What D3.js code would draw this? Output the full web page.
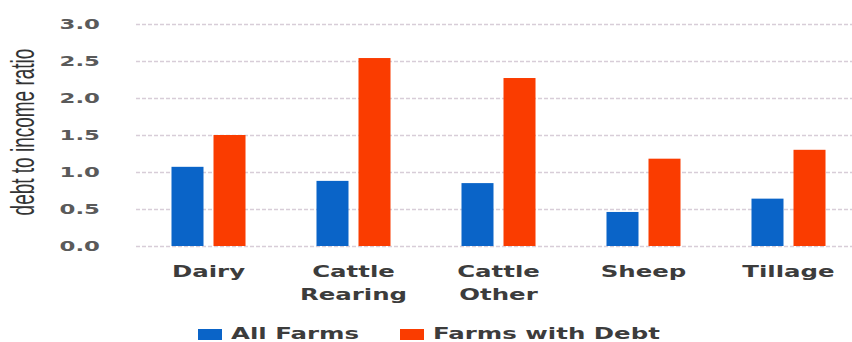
<!DOCTYPE html>
<html>
<head>
<meta charset="utf-8">
<script src="https://cdn.jsdelivr.net/npm/d3@7"></script>
<style>
  body { margin: 0; background: #fff; }
  svg { display: block; }
</style>
</head>
<body>
<svg width="852" height="342"></svg>
<script>
// data
var categories = ["Dairy", "Cattle Rearing", "Cattle Other", "Sheep", "Tillage"];
var categoryLines = [["Dairy"], ["Cattle", "Rearing"], ["Cattle", "Other"], ["Sheep"], ["Tillage"]];
var seriesNames = ["All Farms", "Farms with Debt"];
var allFarms = [1.07, 0.88, 0.85, 0.46, 0.64];
var farmsWithDebt = [1.50, 2.54, 2.27, 1.18, 1.30];
var yTicks = [0, 0.5, 1, 1.5, 2, 2.5, 3];

var colors = ["#0a64c8", "#fa3c00"];
var stretch = 1.63;   // the source picture is stretched sideways

var svg = d3.select("svg"),
    width = +svg.attr("width"),
    height = +svg.attr("height");

var rows = categories.map(function (c, i) {
    return { cat: c, values: [allFarms[i], farmsWithDebt[i]] };
});

// scales
var x0 = d3.scaleBand()
    .domain(categories)
    .range([136, 861]);

var x1 = d3.scaleBand()
    .domain(seriesNames)
    .range([0, x0.bandwidth()])
    .paddingInner(0.238)
    .paddingOuter(0.845);

var y = d3.scaleLinear()
    .domain([0, 3])
    .range([246, 24]);

// dashed gridlines
svg.append("g")
    .selectAll("line")
    .data(yTicks)
    .enter()
    .append("line")
    .attr("x1", 136)
    .attr("x2", width)
    .attr("y1", function (d) { return y(d) + 0.5; })
    .attr("y2", function (d) { return y(d) + 0.5; })
    .attr("stroke", "#d8cdd8")
    .attr("stroke-width", 1.5)
    .attr("stroke-dasharray", "4,2");

// y axis (labels only)
var yAxis = svg.append("g")
    .attr("transform", "translate(100,0)")
    .call(d3.axisLeft(y).tickValues(yTicks).tickFormat(d3.format(".1f")).tickSize(0));

yAxis.select(".domain").remove();
yAxis.selectAll("text")
    .attr("x", 0)
    .attr("transform", "scale(" + stretch + ",1)")
    .style("font-family", "'DejaVu Sans', Verdana, sans-serif")
    .style("font-weight", "bold")
    .style("font-size", "14px")
    .style("fill", "#5a5a5a");

// y axis title
svg.append("text")
    .attr("transform", "translate(34,132) rotate(-90) scale(1,1.75)")
    .attr("text-anchor", "middle")
    .style("font-family", "'Liberation Sans Narrow', 'Liberation Sans', sans-serif")
    .style("font-size", "19px")
    .style("fill", "#333")
    .text("debt to income ratio");

// bars
var groups = svg.append("g")
    .selectAll("g")
    .data(rows)
    .enter()
    .append("g")
    .attr("transform", function (d) { return "translate(" + x0(d.cat) + ",0)"; });

groups.selectAll("rect")
    .data(function (d) { return d.values.map(function (v, i) { return { key: seriesNames[i], value: v, i: i }; }); })
    .enter()
    .append("rect")
    .attr("x", function (d) { return x1(d.key); })
    .attr("width", x1.bandwidth())
    .attr("y", function (d) { return y(d.value); })
    .attr("height", function (d) { return y(0) - y(d.value); })
    .attr("fill", function (d) { return colors[d.i]; });

// category labels
var catLabels = svg.append("g")
    .selectAll("text")
    .data(categories)
    .enter()
    .append("text")
    .attr("transform", function (d) {
        return "translate(" + (x0(d) + x0.bandwidth() / 2) + ",277) scale(" + stretch + ",1)";
    })
    .attr("text-anchor", "middle")
    .style("font-family", "'DejaVu Sans', Verdana, sans-serif")
    .style("font-weight", "bold")
    .style("font-size", "15px")
    .style("fill", "#3c3c3c");

catLabels.selectAll("tspan")
    .data(function (d, i) { return categoryLines[i]; })
    .enter()
    .append("tspan")
    .attr("x", 0)
    .attr("dy", function (d, i) { return i === 0 ? 0 : 23; })
    .text(function (d) { return d; });

// legend
var legendX = [198, 400];
var legend = svg.append("g")
    .selectAll("g")
    .data(seriesNames)
    .enter()
    .append("g")
    .attr("transform", function (d, i) { return "translate(" + legendX[i] + ",0)"; });

legend.append("rect")
    .attr("x", 0)
    .attr("y", 329)
    .attr("width", 24)
    .attr("height", 11)
    .attr("fill", function (d, i) { return colors[i]; });

legend.append("text")
    .attr("transform", "translate(33,339) scale(" + stretch + ",1)")
    .style("font-family", "'DejaVu Sans', Verdana, sans-serif")
    .style("font-weight", "bold")
    .style("font-size", "15px")
    .style("fill", "#3c3c3c")
    .text(function (d) { return d; });
</script>
</body>
</html>
